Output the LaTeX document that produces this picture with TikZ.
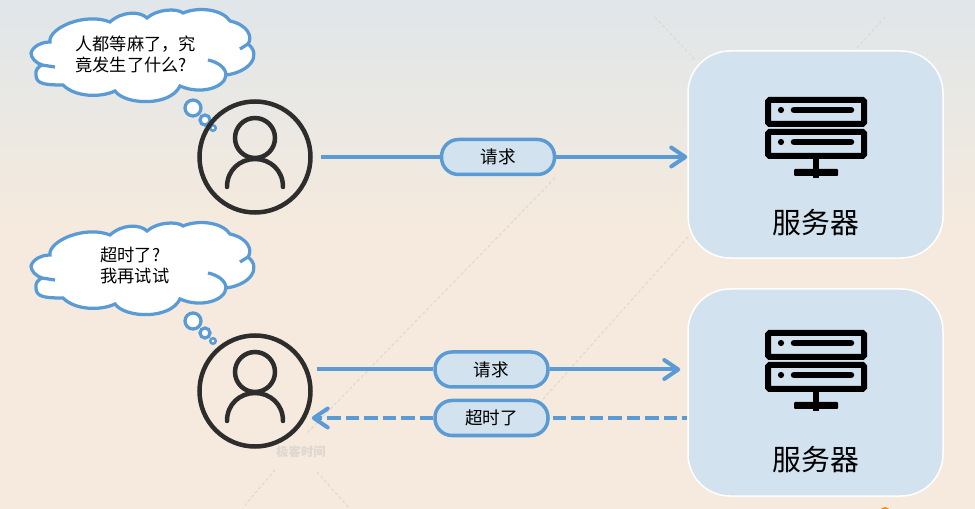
\documentclass[tikz,border=0pt]{standalone}
\usepackage{fontspec}
\setmainfont{Noto Sans CJK SC}
\usepackage{xcolor}
\usetikzlibrary{arrows.meta,calc}
\definecolor{lineblue}{HTML}{5B9BD5}
\definecolor{boxblue}{HTML}{D2E2EE}
\definecolor{iconblack}{HTML}{2D2D2D}
\definecolor{bgtop}{HTML}{E0E6EA}
\definecolor{bgbottom}{HTML}{F5EADD}
\definecolor{markgrey}{HTML}{DDD8D0}
\tikzset{
  usercircle/.style={circle,draw=iconblack,line width=.9mm,minimum size=22.2mm,inner sep=0pt},
  serverbox/.style={draw=white,line width=.3mm,fill=boxblue,rounded corners=8.4mm,minimum width=51mm,minimum height=41.4mm},
  pillnode/.style={draw=lineblue,line width=.7mm,fill=boxblue,rounded corners=3.4mm,minimum width=22.6mm,minimum height=7mm,inner sep=0pt,font=\fontsize{10}{12}\selectfont},
  saytext/.style={align=left,inner sep=0pt,font=\fontsize{9.8}{11.9}\selectfont},
  flow/.style={draw=lineblue,line width=.8mm},
  flowtip/.style={flow,-{Straight Barb[length=2.8mm,width=3.8mm,round]}},
  flowdash/.style={flow,dash pattern=on 2.7mm off 1mm},
  bubble/.style={draw=lineblue,line width=.65mm,fill=white},
  faintline/.style={draw=markgrey,line width=.2mm,dash pattern=on .6mm off .5mm},
  usericon/.pic={
    \draw[iconblack,line width=.9mm](0,-19)circle(4mm);
    \draw[iconblack,line width=.9mm,line cap=round](-28,30)
      ..controls(-28,13)and(-15,2)..(0,2)
      ..controls(15,2)and(28,13)..(28,30);
  },
  servericon/.pic={
    \draw[black,line width=1.2mm,rounded corners=.3mm](-48,-51)rectangle(48,-27);
    \draw[black,line width=1.2mm,rounded corners=.3mm](-48,-19)rectangle(48,5);
    \foreach \y in {-41,-9}{
      \fill[black](-35,\y)circle(.62mm);
      \draw[black,line width=1.3mm,line cap=round](-22,\y)--(35,\y);
    }
    \fill[black](-3,8)rectangle(3,27);
    \fill[black,rounded corners=.2mm](-22,18)rectangle(22,25);
  },
  cloudpic/.pic={
    \draw[bubble](42,65)..controls(36,63)and(31,58)..(31,53)
      ..controls(33,46)and(42,42)..(50,42)
      ..controls(48,28)and(85,12)..(110,22)
      ..controls(122,11)and(140,11)..(147,18)
      ..controls(157,9)and(177,8)..(183,13)
      ..controls(200,6)and(223,10)..(230,21)
      ..controls(248,25)and(253,37)..(248,44)
      ..controls(262,55)and(250,72)..(226,75)
      ..controls(225,88)and(200,95)..(180,86)
      ..controls(170,107)and(125,105)..(115,91)
      ..controls(100,98)and(75,97)..(63,85)
      ..controls(45,85)and(36,84)..(36,75)
      ..controls(35,70)and(38,67)..(42,65);
    \draw[lineblue,line width=.65mm](42,65)--(55,67)
      (248,44)--(240,49)
      (226,75)..controls(226,68)and(218,62)..(208,60);
    \draw[bubble](193,108)circle(1.6mm);
    \draw[bubble](205,120)circle(1mm);
    \draw[bubble,line width=.5mm](213,128)circle(.55mm);
  }
}
\begin{document}
\begin{tikzpicture}[x=.2mm,y=-.2mm]
\useasboundingbox(0,0)rectangle(975,509);
\shade[top color=bgtop,bottom color=bgbottom](0,0)rectangle(975,230);
\fill[bgbottom](0,230)rectangle(975,509);
% marks behind the picture
\draw[faintline](655,17)--(695,60)(885,17)--(855,50)(688,237)--(520,425)
  (555,178)--(307,433)(275,470)--(245,505)(317,472)--(350,509);
\node[text=markgrey,font=\bfseries\fontsize{7}{8}\selectfont](mark1)at(301,452){极客时间};
\fill[orange!90!yellow](885,512)circle(1mm);
\clip(0,0)rectangle(975,509);
% top part
\pic at (0,0){cloudpic};
\node[saytext,anchor=west](say1)at(75,54.5){人都等麻了，究\\竟发生了什么?};
\node[usercircle](user1)at(255,157){};
\pic at (user1){usericon};
\node[serverbox](server1)at(815.5,154.5){};
\pic at (816,151){servericon};
\node[font=\fontsize{16.4}{18}\selectfont](label1)at(816,223){服务器};
\node[pillnode](pill1)at(498,157){请求};
\draw[flow,shorten <=1.6mm](user1.east|-pill1)--(pill1);
\draw[flowtip](pill1)--(server1.west|-pill1);
% bottom part
\pic at (0,213){cloudpic};
\node[saytext,anchor=west](say2)at(100,265.5){超时了?\\我再试试};
\node[usercircle](user2)at(255,391){};
\pic at (user2){usericon};
\node[serverbox](server2)at(815.5,392.5){};
\pic at (816,384){servericon};
\node[font=\fontsize{16.4}{18}\selectfont](label2)at(816,460){服务器};
\node[pillnode](pill2)at(491.5,369.5){请求};
\node[pillnode](pill3)at(491.5,418){超时了};
\draw[flow,shorten <=.8mm](user2.east|-pill2)--(pill2);
\draw[flowtip,shorten >=1.4mm](pill2)--(server2.west|-pill2);
\draw[flowdash]($(pill3.east)+(3,0)$)--(server2.west|-pill3);
\draw[flowdash,flowtip,shorten >=-.2mm](pill3.west)--(user2.east|-pill3);
\end{tikzpicture}
\end{document}
